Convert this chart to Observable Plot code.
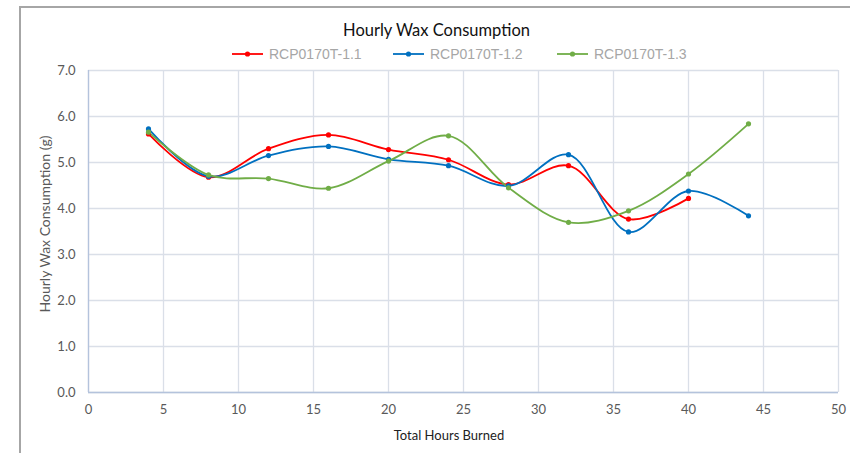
<!DOCTYPE html>
<html>
<head>
<meta charset="utf-8">
<script src="https://cdn.jsdelivr.net/npm/d3@7"></script>
<script src="https://cdn.jsdelivr.net/npm/@observablehq/plot@0.6"></script>
<style>
  html, body { margin: 0; padding: 0; background: #fff; }
  #wrap { position: relative; width: 850px; height: 453px; overflow: hidden; }
  #frame { position: absolute; left: 19px; top: 6px; width: 900px; height: 500px;
           border-left: 2px solid #a6a6a6; border-top: 2px solid #a6a6a6; box-sizing: border-box; }
  #title { position: absolute; left: 0; width: 873px; top: 20px; text-align: center;
           font-family: Lato, sans-serif; font-size: 16.5px; color: #111; }
  .leg { position: absolute; top: 45px; font-family: "Liberation Sans", Arial, sans-serif;
         font-size: 14px; color: #a6a6a6; display: flex; align-items: center; }
  .leg svg { margin-right: 6px; }
  #xlabel { position: absolute; left: 0; width: 898px; top: 427px; text-align: center;
            font-family: Lato, sans-serif; font-size: 13px; color: #222; }
  #ylabel { position: absolute; left: 44px; top: 224px; transform: translate(-50%, -50%) rotate(-90deg);
            white-space: nowrap; font-family: Lato, sans-serif; font-size: 14px; color: #595959; }
  #chart { position: absolute; left: 0; top: 0; }
</style>
</head>
<body>
<div id="wrap">
  <div id="frame"></div>
  <div id="chart"></div>
  <div id="title">Hourly Wax Consumption</div>
  <div id="legend"></div>
  <div id="xlabel">Total Hours Burned</div>
  <div id="ylabel">Hourly Wax Consumption (g)</div>
</div>
<script>
const seriesNames = ["RCP0170T-1.1", "RCP0170T-1.2", "RCP0170T-1.3"];
const seriesColors = ["#ff0000", "#0070c0", "#70ad47"];

const hours11 = [4, 8, 12, 16, 20, 24, 28, 32, 36, 40];
const wax11 = [5.62, 4.68, 5.30, 5.60, 5.28, 5.06, 4.52, 4.93, 3.77, 4.22];

const hours12 = [4, 8, 12, 16, 20, 24, 28, 32, 36, 40, 44];
const wax12 = [5.73, 4.70, 5.15, 5.35, 5.07, 4.93, 4.49, 5.17, 3.49, 4.38, 3.84];

const hours13 = [4, 8, 12, 16, 20, 24, 28, 32, 36, 40, 44];
const wax13 = [5.66, 4.73, 4.65, 4.44, 5.03, 5.58, 4.45, 3.70, 3.95, 4.75, 5.84];

const xTicks = [0, 5, 10, 15, 20, 25, 30, 35, 40, 45, 50];
const yTicks = [0, 1, 2, 3, 4, 5, 6, 7];

const data = [
  ...hours11.map((h, i) => ({series: seriesNames[0], hours: h, wax: wax11[i]})),
  ...hours12.map((h, i) => ({series: seriesNames[1], hours: h, wax: wax12[i]})),
  ...hours13.map((h, i) => ({series: seriesNames[2], hours: h, wax: wax13[i]}))
];

const gridColor = "#dadfe8";
const axisColor = "#b4c3dc";

const chart = Plot.plot({
  width: 850,
  height: 453,
  marginLeft: 88,
  marginRight: 12,
  marginTop: 70,
  marginBottom: 61,
  style: {fontFamily: "Lato, sans-serif", fontSize: "13px", color: "#595959", background: "transparent"},
  x: {domain: [0, 50]},
  y: {domain: [0, 7]},
  color: {domain: seriesNames, range: seriesColors},
  marks: [
    Plot.gridX(xTicks, {stroke: gridColor, strokeOpacity: 1, strokeWidth: 1.3}),
    Plot.gridY(yTicks, {stroke: gridColor, strokeOpacity: 1, strokeWidth: 1.3}),
    Plot.ruleY([0], {stroke: axisColor, strokeWidth: 1.3}),
    Plot.ruleX([0], {stroke: axisColor, strokeWidth: 1.3}),
    Plot.axisX(xTicks, {tickSize: 0, tickPadding: 12, label: null, fill: "#595959"}),
    Plot.axisY(yTicks, {tickSize: 0, tickPadding: 13, label: null, fill: "#595959", tickFormat: d => d.toFixed(1)}),
    Plot.line(data, {x: "hours", y: "wax", z: "series", stroke: "series", curve: "catmull-rom", strokeWidth: 1.8}),
    Plot.dot(data, {x: "hours", y: "wax", fill: "series", r: 2.6})
  ]
});
document.getElementById("chart").appendChild(chart);

const legendPos = [232, 393, 557];
const legend = document.getElementById("legend");
seriesNames.forEach((name, i) => {
  const item = document.createElement("div");
  item.className = "leg";
  item.style.left = legendPos[i] + "px";
  item.innerHTML = `<svg width="31" height="18"><line x1="0" x2="31" y1="9" y2="9" stroke="${seriesColors[i]}" stroke-width="1.8"/><circle cx="15.5" cy="9" r="2.6" fill="${seriesColors[i]}"/></svg><span>${name}</span>`;
  legend.appendChild(item);
});
</script>
</body>
</html>
